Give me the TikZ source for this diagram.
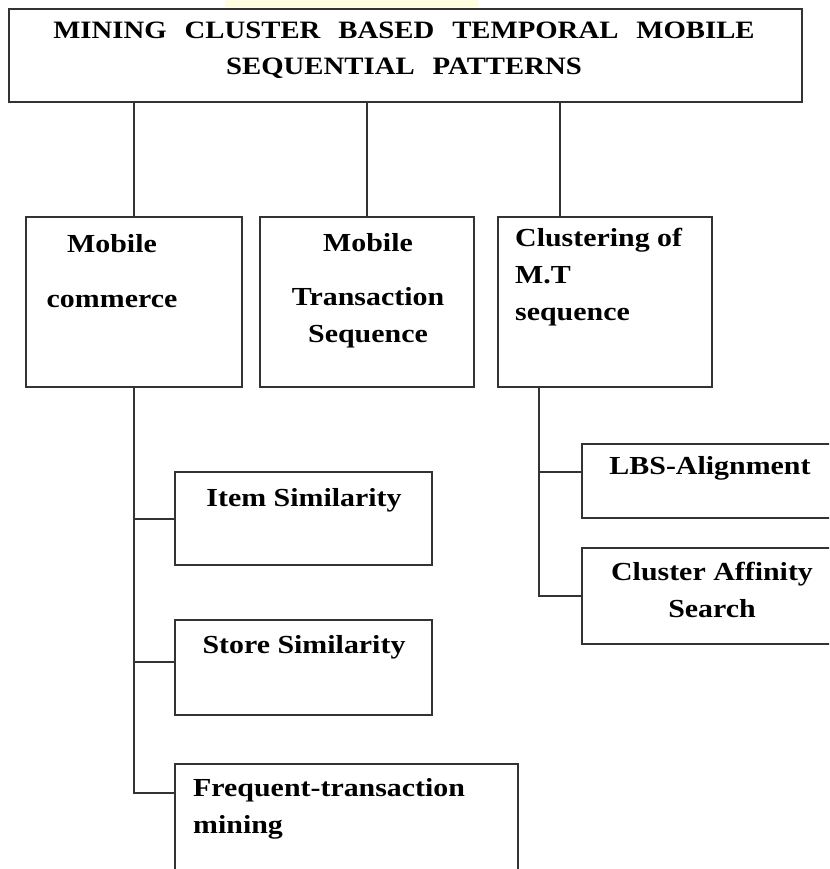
\documentclass[tikz,border=0pt]{standalone}
\usepackage{fontspec}
\setmainfont{Liberation Serif}[FakeStretch=1.15]
\usetikzlibrary{positioning}
\newcommand\titlefont{\bfseries\fontsize{25}{36}\selectfont\spaceskip=18pt\relax}
\tikzset{
  boxnode/.style={draw=black!80, line width=2pt, rectangle, inner sep=0pt, anchor=north west},
  txt/.style={font=\bfseries\fontsize{26}{37}\selectfont, inner sep=0pt, anchor=base},
  link/.style={draw=black!80, line width=2pt},
}
\begin{document}
\begin{tikzpicture}[x=1pt,y=-1pt]
  \useasboundingbox (0,0) rectangle (829,869);
  \clip (0,0) rectangle (829,869);
  \fill[yellow!12] (225,0) rectangle (478,7);
  % top of the tree (multi-line texts sit on their last baseline)
  \node[boxnode, minimum width=793pt, minimum height=93pt] (root) at (8,8) {};
  \node[txt, align=center, font=\titlefont] (roottxt) at (404,75)
    {MINING CLUSTER BASED TEMPORAL MOBILE\\SEQUENTIAL PATTERNS};
  % second row
  \node[boxnode, minimum width=216pt, minimum height=170pt] (mc) at (25,216) {};
  \node[boxnode, minimum width=214pt, minimum height=170pt] (mts) at (259,216) {};
  \node[boxnode, minimum width=214pt, minimum height=170pt] (clu) at (497,216) {};
  \node[txt, align=center] (mctxt) at (112,307) {Mobile\\[18pt]commerce};
  \node[txt, align=center] (mtstxt) at (368,342) {Mobile\\[17pt]Transaction\\Sequence};
  \node[txt, align=left, anchor=base west] (clutxt) at (515,320) {Clustering of\\M.T\\sequence};
  % leaves under mobile commerce
  \node[boxnode, minimum width=257pt, minimum height=93pt] (item) at (174,471) {};
  \node[boxnode, minimum width=257pt, minimum height=95pt] (store) at (174,619) {};
  \node[boxnode, minimum width=343pt, minimum height=140pt] (freq) at (174,763) {};
  \node[txt] (itemtxt) at (304,506) {Item Similarity};
  \node[txt] (storetxt) at (304,653) {Store Similarity};
  \node[txt, align=left, anchor=base west] (freqtxt) at (193,833) {Frequent-transaction\\mining};
  % leaves under clustering
  \node[boxnode, minimum width=280pt, minimum height=74pt] (lbs) at (581,443) {};
  \node[boxnode, minimum width=280pt, minimum height=96pt] (aff) at (581,547) {};
  \node[txt] (lbstxt) at (710,474) {LBS-Alignment};
  \node[txt, align=center] (afftxt) at (712,617) {Cluster Affinity\\Search};
  % connectors
  \coordinate (clutop) at (560,216);
  \coordinate (cluout) at (539,386);
  \coordinate (freqin) at (174,793);
  \draw[link] (root.south -| mc.north) -- (mc.north);
  \draw[link] (root.south -| mts.north) -- (mts.north);
  \draw[link] (root.south -| clutop) -- (clutop);
  \draw[link] (mc.south) |- (item.west);
  \draw[link] (mc.south) |- ([yshift=6pt]store.west);
  \draw[link] (mc.south) |- (freqin);
  \draw[link] (cluout) |- ([yshift=9pt]lbs.west);
  \draw[link] (cluout) |- (aff.west);
\end{tikzpicture}
\end{document}
